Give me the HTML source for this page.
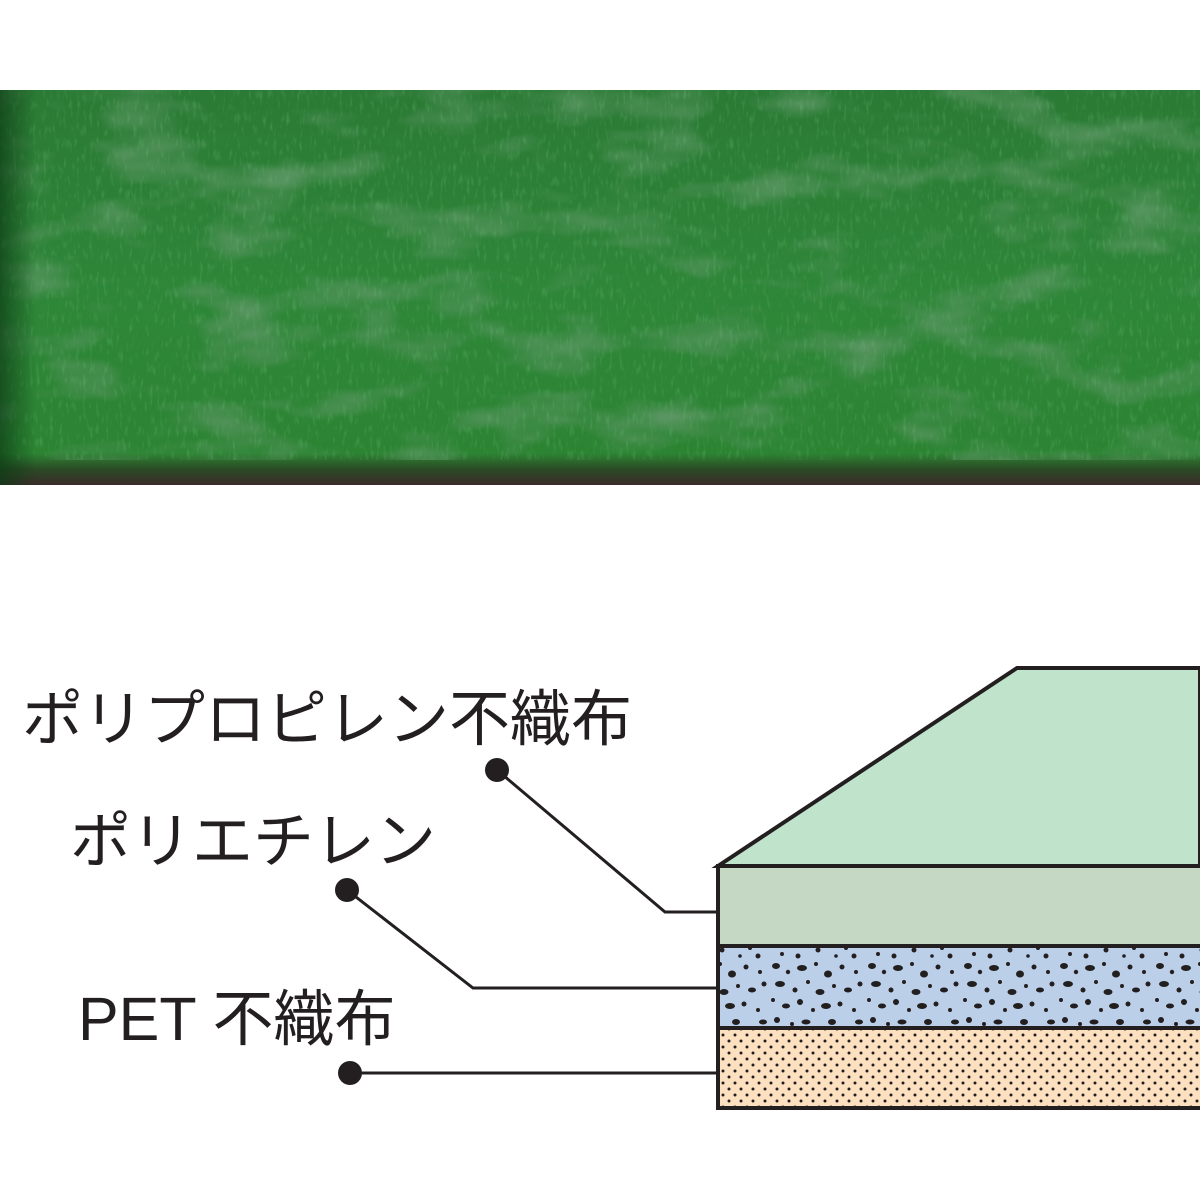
<!DOCTYPE html>
<html><head><meta charset="utf-8"><style>
html,body{margin:0;padding:0;background:#fff;}
svg{display:block}
text{font-family:"Liberation Sans","Noto Sans CJK JP",sans-serif;fill:#231f20}
</style></head><body>
<svg width="1200" height="1200" viewBox="0 0 1200 1200" xmlns="http://www.w3.org/2000/svg">
<defs>
<linearGradient id="gv" x1="0" y1="0" x2="0" y2="1">
<stop offset="0" stop-color="#2b7a35"/>
<stop offset="0.5" stop-color="#2e8638"/>
<stop offset="0.92" stop-color="#2c8433"/>
<stop offset="0.96" stop-color="#2b4a25"/>
<stop offset="1" stop-color="#3a2c2a"/>
</linearGradient>
<linearGradient id="gh" x1="0" y1="0" x2="1" y2="0">
<stop offset="0" stop-color="#0b3a14" stop-opacity="0.7"/>
<stop offset="0.03" stop-color="#0b3a14" stop-opacity="0"/>
<stop offset="1" stop-color="#0b3a14" stop-opacity="0"/>
</linearGradient>
<filter id="noise" x="0" y="0" width="100%" height="100%">
<feTurbulence type="fractalNoise" baseFrequency="0.01 0.025" numOctaves="3" seed="7"/>
<feColorMatrix type="matrix" values="0 0 0 0 0.1  0 0 0 0 0.3  0 0 0 0 0.12  0 0 0 -2.5 1.3"/>
</filter>
<filter id="noise2" x="0" y="0" width="100%" height="100%">
<feTurbulence type="fractalNoise" baseFrequency="0.3 0.08" numOctaves="2" seed="2"/>
<feColorMatrix type="matrix" values="0 0 0 0 0.2  0 0 0 0 0.6  0 0 0 0 0.25  0 0 0 1.4 -0.75"/>
</filter>
<pattern id="dots" width="12" height="12" patternUnits="userSpaceOnUse">
<rect width="12" height="12" fill="#fde0c0"/>
<circle cx="3" cy="3" r="1.5" fill="#231f20"/>
<circle cx="9" cy="9" r="1.5" fill="#231f20"/>
</pattern>
<pattern id="speck" width="96" height="80" patternUnits="userSpaceOnUse">
<rect width="96" height="80" fill="#bccfe8"/>
<g fill="#231f20">
<ellipse cx="8" cy="6" rx="4" ry="3"/><circle cx="20" cy="12" r="2.2"/><ellipse cx="34" cy="8" rx="5" ry="3"/>
<circle cx="48" cy="4" r="2"/><ellipse cx="60" cy="14" rx="4" ry="3.5"/><circle cx="74" cy="7" r="2.5"/>
<circle cx="88" cy="12" r="2"/><ellipse cx="12" cy="24" rx="5" ry="3"/><circle cx="27" cy="30" r="2.5"/>
<circle cx="40" cy="22" r="2"/><ellipse cx="52" cy="32" rx="4.5" ry="3"/><circle cx="66" cy="26" r="2"/>
<ellipse cx="80" cy="30" rx="4" ry="2.5"/><circle cx="92" cy="24" r="2.5"/><circle cx="5" cy="40" r="2"/>
<ellipse cx="18" cy="46" rx="4" ry="2.5"/><circle cx="32" cy="42" r="3"/><circle cx="45" cy="50" r="2"/>
<ellipse cx="58" cy="46" rx="5" ry="3"/><circle cx="72" cy="44" r="2.5"/><circle cx="86" cy="50" r="2"/>
<circle cx="9" cy="60" r="3"/><circle cx="24" cy="64" r="2"/><ellipse cx="38" cy="62" rx="4.5" ry="2.5"/>
<circle cx="50" cy="70" r="2.5"/><ellipse cx="64" cy="62" rx="4" ry="3"/><circle cx="78" cy="68" r="2"/>
<ellipse cx="91" cy="62" rx="4" ry="2.5"/><circle cx="14" cy="74" r="2"/><circle cx="30" cy="76" r="2.5"/>
<circle cx="86" cy="76" r="2.5"/><circle cx="68" cy="76" r="1.8"/>
</g>
</pattern>
</defs>
<!-- photo -->
<rect x="0" y="90" width="1200" height="395" fill="url(#gv)"/>
<rect x="0" y="90" width="1200" height="370" filter="url(#noise)"/>
<rect x="0" y="90" width="1200" height="370" filter="url(#noise2)" opacity="0.5"/>
<rect x="0" y="90" width="1200" height="395" fill="url(#gh)"/>
<!-- diagram -->
<polygon points="718,866 1017,668 1200,668 1200,866" fill="#c0e3cc" stroke="#231f20" stroke-width="4"/>
<rect x="718" y="866" width="490" height="80" fill="#c5d8c4" stroke="#231f20" stroke-width="4"/>
<rect x="718" y="946" width="490" height="82" fill="url(#speck)" stroke="#231f20" stroke-width="4"/>
<rect x="718" y="1028" width="490" height="80" fill="url(#dots)" stroke="#231f20" stroke-width="4"/>
<g stroke="#231f20" stroke-width="3" fill="none">
<polyline points="497,770 665,912 718,912"/>
<polyline points="347,890 473,988 718,988"/>
<polyline points="350,1073 718,1073"/>
</g>
<g fill="#231f20"><circle cx="497" cy="770" r="12"/><circle cx="347" cy="890" r="12"/><circle cx="350" cy="1073" r="12"/></g>
<text x="22" y="740" font-size="61">ポリプロピレン不織布</text>
<text x="70" y="862" font-size="61">ポリエチレン</text>
<text x="78" y="1040" font-size="61">PET 不織布</text>
</svg>
</body></html>
